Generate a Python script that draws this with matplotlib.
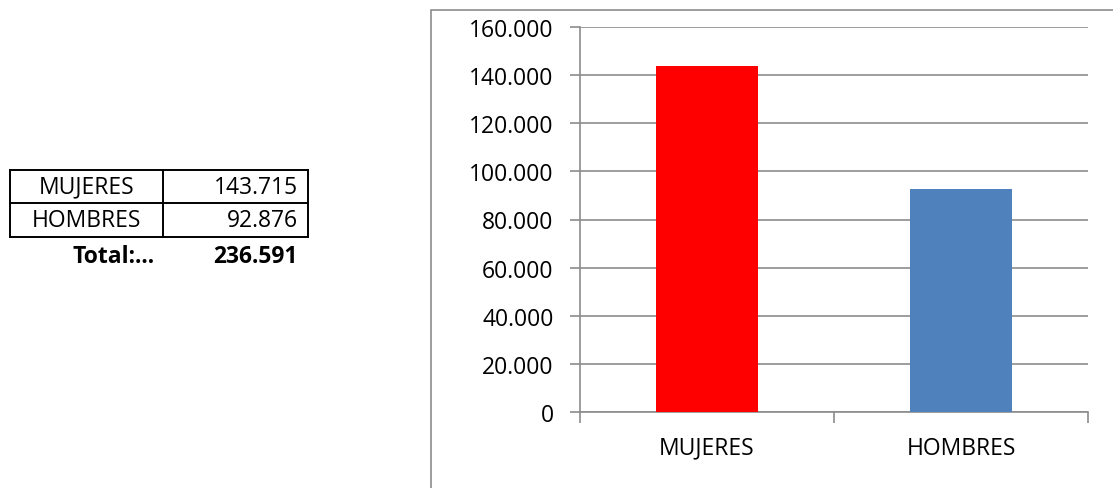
import matplotlib
matplotlib.use("Agg")
import matplotlib.pyplot as plt
from matplotlib.patches import Rectangle
from matplotlib.ticker import FuncFormatter, FixedLocator

categories = ["MUJERES", "HOMBRES"]
values = [143715, 92876]
bar_colors = ["#FF0000", "#4F81BD"]
total_label = "Total:..."
total_value = 236591
y_ticks = [0, 20000, 40000, 60000, 80000, 100000, 120000, 140000, 160000]

plt.rcParams['font.family'] = ['Open Sans', 'DejaVu Sans']

W, H = 1113, 489
fig = plt.figure(figsize=(W / 100, H / 100), dpi=100)

def fx(px):
    return px / W

def fy(py):
    return 1 - py / H

def fmt(v):
    return f"{int(round(v)):,}".replace(",", ".")

FS = 16.5

# chart frame
frame = Rectangle((fx(431), fy(520)), fx(720), fy(11) - fy(520), transform=fig.transFigure,
                  fill=False, edgecolor="#8C8C8C", linewidth=1.2, clip_on=False)
fig.patches.append(frame)

ax = fig.add_axes([fx(580), fy(413), fx(1088) - fx(580), fy(28) - fy(413)])
x = list(range(len(categories)))
ax.bar(x, values, width=0.4, color=bar_colors, zorder=3)
ax.set_xlim(-0.5, len(categories) - 0.5)
ax.set_ylim(0, 160000)
ax.set_yticks(y_ticks)
ax.yaxis.set_major_formatter(FuncFormatter(lambda v, p: fmt(v)))
ax.grid(axis="y", color="#8C8C8C", linewidth=1.2, zorder=0)
for s in ["top", "right"]:
    ax.spines[s].set_visible(False)
for s in ["left", "bottom"]:
    ax.spines[s].set_color("#8C8C8C")
    ax.spines[s].set_linewidth(1.2)
ax.tick_params(axis="y", direction="out", length=7, width=1.2, color="#8C8C8C",
               labelsize=FS, pad=12)
ax.xaxis.set_major_locator(FixedLocator([-0.5, 0.5, 1.5]))
ax.xaxis.set_major_formatter(FuncFormatter(lambda v, p: ""))
ax.xaxis.set_minor_locator(FixedLocator(x))
ax.set_xticks(x, categories, minor=True)
ax.tick_params(axis="x", which="major", direction="out", length=8, width=1.2, color="#8C8C8C")
ax.tick_params(axis="x", which="minor", length=0, labelsize=FS, pad=17)

# table
lw = 1.4
col_x = [10, 163, 308]
row_y = [171, 204, 238]
for yy in row_y:
    fig.add_artist(plt.Line2D([fx(col_x[0]), fx(col_x[-1])], [fy(yy), fy(yy)], color="black",
                              linewidth=lw, transform=fig.transFigure))
for xx in col_x:
    fig.add_artist(plt.Line2D([fx(xx), fx(xx)], [fy(row_y[0]), fy(row_y[-1])], color="black",
                              linewidth=lw, transform=fig.transFigure))
for i, (c, v) in enumerate(zip(categories, values)):
    yc = (row_y[i] + row_y[i + 1]) / 2
    fig.text(fx((col_x[0] + col_x[1]) / 2), fy(yc), c, ha="center", va="center", fontsize=FS)
    fig.text(fx(col_x[2] - 10), fy(yc), fmt(v), ha="right", va="center", fontsize=FS)
fig.text(fx(col_x[1] - 8), fy(257), total_label, ha="right", va="center", fontsize=FS,
         fontweight="bold")
fig.text(fx(col_x[2] - 10), fy(257), fmt(total_value), ha="right", va="center", fontsize=FS,
         fontweight="bold")

fig.savefig("out.png", dpi=100)
